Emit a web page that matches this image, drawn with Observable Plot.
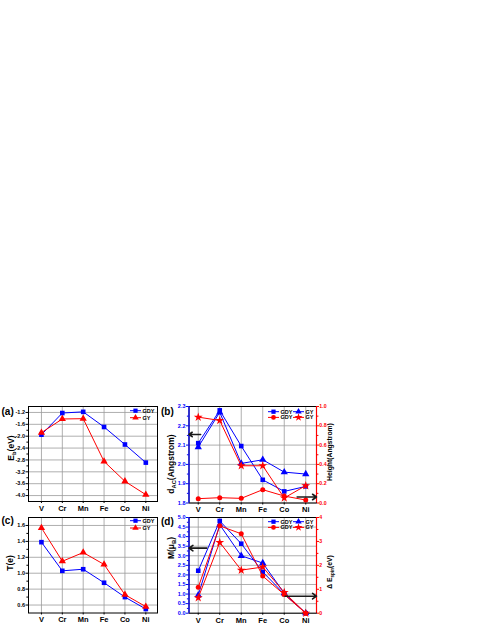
<!DOCTYPE html>
<html><head><meta charset="utf-8">
<script src="https://cdn.jsdelivr.net/npm/d3@7"></script>
<script src="https://cdn.jsdelivr.net/npm/@observablehq/plot@0.6"></script>
<style>
body{margin:0;background:#fff;}
#wrap{position:relative;width:485px;height:627px;overflow:hidden;background:#fff;}
#wrap svg{position:absolute;}
</style></head><body><div id="wrap"></div>
<script>
// ---------- data ----------
const categories = ["V","Cr","Mn","Fe","Co","Ni"];
// (a) binding energy E_b (eV)
const ebGDY = [-1.95, -1.22, -1.18, -1.69, -2.28, -2.89];
const ebGY  = [-1.88, -1.42, -1.41, -2.85, -3.52, -3.97];
// (b) d_AC (Angstrom) left axis, Height (Angstrom) right axis
const dGDY = [2.11, 2.28, 2.095, 1.92, 1.86, 1.886];
const dGY  = [2.09, 2.27, 2.005, 2.024, 1.96, 1.95];
const hGDY = [0.045, 0.055, 0.048, 0.138, 0.072, 0.031];
const hGY  = [0.89, 0.855, 0.386, 0.386, 0.052, 0.18];
// (c) charge transfer T(e)
const tGDY = [1.39, 1.03, 1.05, 0.88, 0.70, 0.55];
const tGY  = [1.57, 1.15, 1.26, 1.11, 0.73, 0.58];
// (d) magnetic moment M (muB) left axis, Delta E_spin (eV) right axis
const mGDY = [2.22, 4.82, 3.63, 2.16, 1.0, 0];
const mGY  = [0.94, 4.62, 3.0, 2.62, 1.05, 0];
const eGDY = [1.08, 3.65, 3.32, 1.55, 0.78, 0];
const eGY  = [0.65, 2.96, 1.8, 1.93, 0.87, 0];
// tick values
const ticksA = [-1.2,-1.6,-2.0,-2.4,-2.8,-3.2,-3.6,-4.0];
const ticksBL = [1.8,1.9,2.0,2.1,2.2,2.3];
const ticksBR = [0,0.2,0.4,0.6,0.8,1.0];
const ticksC = [0.6,0.8,1.0,1.2,1.4,1.6];
const ticksDL = [0,0.5,1,1.5,2,2.5,3,3.5,4,4.5,5];
const ticksDR = [0,1,2,3,4];
// arrow annotations (data units)
const arrowsBL = [{x1:0.11, x2:-0.43, y:2.155}];
const arrowsBR = [{x1:4.6, x2:5.5, y:0.062}];
const arrowsDL = [{x1:0.4, x2:-0.43, y:3.40}];
const arrowsDR = [{x1:4.04, x2:5.5, y:0.71}];

// ---------- helpers ----------
const BLUE = "#0000ff", RED = "#ff0000", GRID = "#9a9a9a";
const FONT = '"Liberation Sans", Arial, Helvetica, sans-serif';
const wrap = document.getElementById("wrap");
const idx = categories.map((_, i) => i);
const rows = (a, b) => categories.map((c, i) => ({i, a: a[i], b: b[i]}));
const style = {fontFamily: FONT, fontWeight: "bold", fontSize: "5.5px", background: "transparent", overflow: "visible", maxWidth: "none"};
const minorsOf = (t) => { const s = t[1]-t[0]; const out=[]; for (let k=0;k<t.length-1;k++) out.push(+(t[k]+s/2).toFixed(4)); return out; };

function place(svg, box) {
  svg.style.left = box.left + "px";
  svg.style.top = box.top + "px";
  wrap.appendChild(svg);
}
function margins(box, fr) {
  return {
    width: box.width, height: box.height,
    marginLeft: fr.x0 - box.left, marginRight: box.left + box.width - fr.x1,
    marginTop: fr.y0 - box.top, marginBottom: box.top + box.height - fr.y1
  };
}
function seriesMarks(data, key, color, symbol, r) {
  return [
    Plot.line(data, {x: "i", y: key, stroke: color, strokeWidth: 1}),
    Plot.dot(data, {x: "i", y: key, fill: color, symbol, r})
  ];
}
function arrowMarks(arr) {
  return Plot.arrow(arr, {x1: "x1", x2: "x2", y1: "y", y2: "y", stroke: "#1a1a1a", strokeWidth: 1.6, headLength: 4.5, headAngle: 70});
}

function mainPanel({box, frame, xDomain, yDomain, ticks, fmt, axisColor, series, arrows, leftLine}) {
  const marks = [
    Plot.ruleX(idx, {x: d => d, stroke: GRID, strokeWidth: 0.8}),
    Plot.ruleY(ticks, {stroke: GRID, strokeWidth: 0.8}),
    Plot.frame({stroke: "black", strokeWidth: 1}),
    Plot.axisY({ticks, tickFormat: fmt, tickSize: 2.5, tickPadding: 1, color: axisColor, label: null, fontSize: 5.5}),
    Plot.axisY({ticks: minorsOf(ticks), tickFormat: () => "", tickSize: 1.6, color: axisColor, label: null}),
    Plot.axisX({ticks: idx, tickFormat: i => categories[i], tickSize: 2, tickPadding: 2, label: null, fontSize: 7.5}),
    ...series
  ];
  if (leftLine) marks.push(Plot.ruleX([xDomain[0]], {stroke: leftLine, strokeWidth: 1.2}));
  if (arrows) marks.push(arrowMarks(arrows));
  const svg = Plot.plot({
    ...margins(box, frame), style,
    x: {type: "linear", domain: xDomain},
    y: {type: "linear", domain: yDomain},
    marks
  });
  place(svg, box);
}
function rightPanel({box, frame, xDomain, yDomain, ticks, fmt, series, arrows}) {
  const marks = [
    Plot.ruleX([xDomain[1]], {stroke: RED, strokeWidth: 1.2}),
    Plot.axisY({anchor: "right", ticks, tickFormat: fmt, tickSize: 2, tickPadding: 0.8, color: RED, label: null, fontSize: 5.2}),
    Plot.axisY({anchor: "right", ticks: minorsOf(ticks), tickFormat: () => "", tickSize: 1.4, color: RED, label: null}),
    ...series,
    arrowMarks(arrows)
  ];
  const svg = Plot.plot({
    ...margins(box, frame), style,
    x: {type: "linear", domain: xDomain, axis: null},
    y: {type: "linear", domain: yDomain},
    marks
  });
  place(svg, box);
}

const f1 = d => d.toFixed(1);
const f0 = d => d.toFixed(0);
const xAC = [-0.62, 5.56];
const xBD = [-0.43, 5.5];

// ---------- (a) ----------
const dataA = rows(ebGDY, ebGY);
mainPanel({
  box: {left: 0, top: 396, width: 185, height: 124},
  frame: {x0: 28, x1: 157, y0: 406, y1: 501},
  xDomain: xAC, yDomain: [-4.2, -1.0], ticks: ticksA, fmt: f1, axisColor: "black",
  series: [...seriesMarks(dataA, "a", BLUE, "square", 2.6), ...seriesMarks(dataA, "b", RED, "triangle", 2.7)]
});
// ---------- (b) ----------
const dataBL = rows(dGDY, dGY);
const dataBR = rows(hGDY, hGY);
const boxB = {left: 155, top: 396, width: 185, height: 124};
const frB = {x0: 188.5, x1: 316, y0: 406, y1: 502.5};
mainPanel({
  box: boxB, frame: frB, xDomain: xBD, yDomain: [1.8, 2.3], ticks: ticksBL, fmt: f1, axisColor: BLUE,
  series: [...seriesMarks(dataBL, "a", BLUE, "square", 2.6), ...seriesMarks(dataBL, "b", BLUE, "triangle", 2.7)],
  arrows: arrowsBL, leftLine: BLUE
});
rightPanel({
  box: boxB, frame: frB, xDomain: xBD, yDomain: [0, 1], ticks: ticksBR, fmt: f1,
  series: [...seriesMarks(dataBR, "a", RED, "circle", 2.5), ...seriesMarks(dataBR, "b", RED, "star", 2.8)],
  arrows: arrowsBR
});
// ---------- (c) ----------
const dataC = rows(tGDY, tGY);
mainPanel({
  box: {left: 0, top: 507, width: 185, height: 118},
  frame: {x0: 28, x1: 157, y0: 517, y1: 612.5},
  xDomain: xAC, yDomain: [0.5, 1.7], ticks: ticksC, fmt: f1, axisColor: "black",
  series: [...seriesMarks(dataC, "a", BLUE, "square", 2.6), ...seriesMarks(dataC, "b", RED, "triangle", 2.7)]
});
// ---------- (d) ----------
const dataDL = rows(mGDY, mGY);
const dataDR = rows(eGDY, eGY);
const boxD = {left: 155, top: 507, width: 185, height: 118};
const frD = {x0: 188.5, x1: 316, y0: 517, y1: 612.7};
mainPanel({
  box: boxD, frame: frD, xDomain: xBD, yDomain: [0, 5], ticks: ticksDL, fmt: f1, axisColor: BLUE,
  series: [...seriesMarks(dataDL, "a", BLUE, "square", 2.6), ...seriesMarks(dataDL, "b", BLUE, "triangle", 2.7)],
  arrows: arrowsDL, leftLine: BLUE
});
rightPanel({
  box: boxD, frame: frD, xDomain: xBD, yDomain: [0, 4], ticks: ticksDR, fmt: f0,
  series: [...seriesMarks(dataDR, "a", RED, "circle", 2.5), ...seriesMarks(dataDR, "b", RED, "star", 2.8)],
  arrows: arrowsDR
});

// ---------- labels, titles, legends ----------
const ov = d3.select(wrap).append("svg")
  .attr("width", 485).attr("height", 627)
  .style("left", "0px").style("top", "0px")
  .style("font-family", FONT).style("font-weight", "bold");

function panelLabel(x, y, s) {
  ov.append("text").attr("x", x).attr("y", y).attr("dy", "0.35em")
    .style("font-size", "10px").text(s);
}
panelLabel(1.5, 411.7, "(a)");
panelLabel(161, 411.7, "(b)");
panelLabel(1.5, 520.7, "(c)");
panelLabel(161, 521, "(d)");

function vtitle(cx, cy, parts, size) {
  const t = ov.append("text")
    .attr("transform", `translate(${cx},${cy}) rotate(-90)`)
    .attr("text-anchor", "middle").attr("dy", "0.35em")
    .style("font-size", size + "px").attr("fill", "black");
  let shifted = false;
  parts.forEach(([s, sub]) => {
    const ts = t.append("tspan").text(s);
    if (sub) { ts.style("font-size", (size * 0.68) + "px").attr("dy", size * 0.28); shifted = true; }
    else if (shifted) { ts.attr("dy", -size * 0.28); shifted = false; }
  });
}
vtitle(11, 448, [["E"], ["b", true], ["(eV)"]], 8.5);
vtitle(10, 563, [["T(e)"]], 8.5);
vtitle(171, 464, [["d"], ["AC", true], ["(Angstrom)"]], 8.5);
vtitle(171, 548, [["M(μ"], ["B", true], [")"]], 8.5);
vtitle(330, 452, [["Height(Angstrom)"]], 6.8);
vtitle(330, 572, [["Δ E"], ["spin", true], ["(eV)"]], 6.8);

function legendEntry(x, y, color, sym, label, area) {
  ov.append("line").attr("x1", x).attr("x2", x + 11).attr("y1", y).attr("y2", y)
    .attr("stroke", color).attr("stroke-width", 1);
  ov.append("path").attr("d", d3.symbol(sym, area)())
    .attr("transform", `translate(${x + 5.5},${y})`).attr("fill", color);
  ov.append("text").attr("x", x + 12.5).attr("y", y).attr("dy", "0.35em")
    .style("font-size", "5.5px").text(label);
}
// (a) and (c)
legendEntry(130, 410.7, BLUE, d3.symbolSquare, "GDY", 18);
legendEntry(130, 417.7, RED, d3.symbolTriangle, "GY", 18);
legendEntry(130, 520.7, BLUE, d3.symbolSquare, "GDY", 18);
legendEntry(130, 528, RED, d3.symbolTriangle, "GY", 18);
// (b) and (d)
for (const y0 of [411.7, 521.7]) {
  legendEntry(268, y0, BLUE, d3.symbolSquare, "GDY", 18);
  legendEntry(293, y0, BLUE, d3.symbolTriangle, "GY", 18);
  legendEntry(268, y0 + 5.7, RED, d3.symbolCircle, "GDY", 18);
  legendEntry(293, y0 + 5.7, RED, d3.symbolStar, "GY", 20);
}
</script></body></html>
